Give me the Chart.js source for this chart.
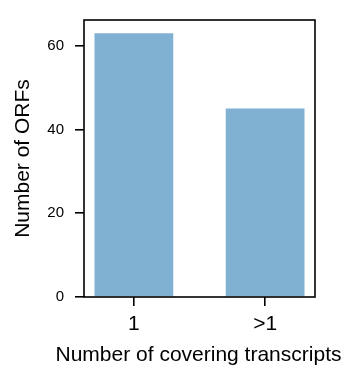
<!DOCTYPE html>
<html>
<head>
<meta charset="utf-8">
<script src="https://cdn.jsdelivr.net/npm/chart.js@4/dist/chart.umd.min.js"></script>
<style>
  html, body { margin: 0; padding: 0; background: #fff; }
  #wrap { width: 347px; height: 376px; }
</style>
</head>
<body>
<div id="wrap"><canvas id="myChart"></canvas></div>
<script>
var categories = ["1", ">1"];
var counts = [63, 45];
var yTicks = [0, 20, 40, 60];
var xTitle = 'Number of covering transcripts';

var points = [];
for (var i in categories) {
  points.push({x: parseInt(i), y: counts[i]});
}

var fam = "'Liberation Sans', Arial, sans-serif";

// box round the plot area, like the matplotlib spines,
// plus the x title (the scale title gets squeezed to the plot width)
var frame = {
  id: 'frame',
  afterDatasetsDraw: function(chart) {
    var a = chart.chartArea, c = chart.ctx;
    c.save();
    c.strokeStyle = '#000';
    c.lineWidth = 1.6;
    c.strokeRect(a.left, a.top, a.right - a.left, a.bottom - a.top);
    c.restore();
  },
  afterDraw: function(chart) {
    var c = chart.ctx;
    c.save();
    c.fillStyle = '#000';
    c.font = "21px " + fam;
    c.textAlign = 'center';
    c.textBaseline = 'middle';
    c.fillText(xTitle, 198.5, 355);
    c.restore();
  }
};

var ctx = document.getElementById("myChart").getContext('2d');
var myChart = new Chart(ctx, {
  type: 'bar',
  data: {
    datasets: [{
      data: points,
      backgroundColor: '#80b1d3',
      borderWidth: 0,
      barPercentage: 0.6,
      categoryPercentage: 1.0
    }]
  },
  plugins: [frame],
  options: {
    responsive: true,
    maintainAspectRatio: false,
    animation: false,
    layout: { padding: { top: 7, right: 32, left: 0, bottom: 0 } },
    plugins: { legend: { display: false }, tooltip: { enabled: false } },
    scales: {
      x: {
        type: 'linear',
        min: -0.38,
        max: 1.38,
        offset: false,
        afterBuildTicks: function(s) { s.ticks = categories.map(function(c, i) { return {value: i}; }); },
        afterFit: function(s) { s.height = 79; },
        border: { display: false },
        grid: { offset: false, drawOnChartArea: false, color: '#000', lineWidth: 1.6, tickLength: 9 },
        ticks: {
          padding: 6,
          color: '#000',
          font: { family: fam, size: 21 },
          maxRotation: 0,
          callback: function(v) { return categories[v]; }
        }
      },
      y: {
        min: 0,
        max: 66.15,
        afterBuildTicks: function(s) { s.ticks = yTicks.map(function(v) { return {value: v}; }); },
        afterFit: function(s) { s.width = 84; },
        border: { display: false },
        grid: { drawOnChartArea: false, color: '#000', lineWidth: 1.6, tickLength: 9 },
        ticks: {
          padding: 11,
          color: '#000',
          font: { family: fam, size: 15 }
        },
        title: {
          display: true,
          text: 'Number of ORFs',
          color: '#000',
          font: { family: fam, size: 21 },
          padding: { top: 11, bottom: 0 }
        }
      }
    }
  }
});
</script>
</body>
</html>
